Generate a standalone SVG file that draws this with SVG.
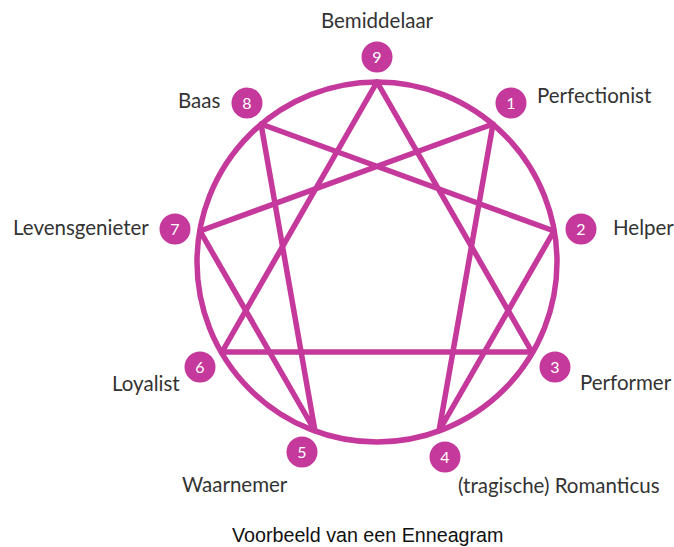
<svg xmlns="http://www.w3.org/2000/svg" width="674" height="547" viewBox="0 0 674 547">
<style>
.c{fill:none;stroke:#c4399b;stroke-width:5.5;stroke-linecap:round;stroke-linejoin:round}
.b{fill:#c4399b}
.n{fill:#fff;font-family:Lato,"Open Sans",sans-serif;font-size:16px;text-anchor:middle}
.l{fill:#333;font-family:Lato,"Open Sans",sans-serif;font-size:20.5px}
.cap{fill:#111;font-family:"Liberation Sans",Arial,sans-serif;font-size:19.7px}
</style>
<rect width="674" height="547" fill="#fff"/>
<g id="connectors">
<circle class="c" cx="377" cy="262" r="180"/>
<polygon class="c" points="377,82 532,352 222,352"/>
<polyline class="c" points="493,124 439,431 554,231 261,124 315,431 200,231 493,124"/>
</g>
<g id="n9"><circle class="b" cx="377" cy="57" r="15.5"/><text class="n" x="377" y="62.5">9</text><text class="l" x="377" y="28" text-anchor="middle">Bemiddelaar</text></g>
<g id="n1"><circle class="b" cx="511" cy="103" r="15.5"/><text class="n" x="511" y="108.5">1</text><text class="l" x="537" y="103">Perfectionist</text></g>
<g id="n2"><circle class="b" cx="581" cy="229" r="15.5"/><text class="n" x="581" y="234.5">2</text><text class="l" x="613" y="235">Helper</text></g>
<g id="n3"><circle class="b" cx="555" cy="367" r="15.5"/><text class="n" x="555" y="372.5">3</text><text class="l" x="580" y="390">Performer</text></g>
<g id="n4"><circle class="b" cx="445" cy="457" r="15.5"/><text class="n" x="445" y="462.5">4</text><text class="l" x="458" y="493">(tragische) Romanticus</text></g>
<g id="n5"><circle class="b" cx="302" cy="452" r="15.5"/><text class="n" x="302" y="457.5">5</text><text class="l" x="182" y="492">Waarnemer</text></g>
<g id="n6"><circle class="b" cx="200" cy="367" r="15.5"/><text class="n" x="200" y="372.5">6</text><text class="l" x="112" y="391">Loyalist</text></g>
<g id="n7"><circle class="b" cx="175" cy="229" r="15.5"/><text class="n" x="175" y="234.5">7</text><text class="l" x="13" y="235">Levensgenieter</text></g>
<g id="n8"><circle class="b" cx="247" cy="103" r="15.5"/><text class="n" x="247" y="108.5">8</text><text class="l" x="178" y="108">Baas</text></g>
<text class="cap" x="232" y="542">Voorbeeld van een Enneagram</text>
</svg>
